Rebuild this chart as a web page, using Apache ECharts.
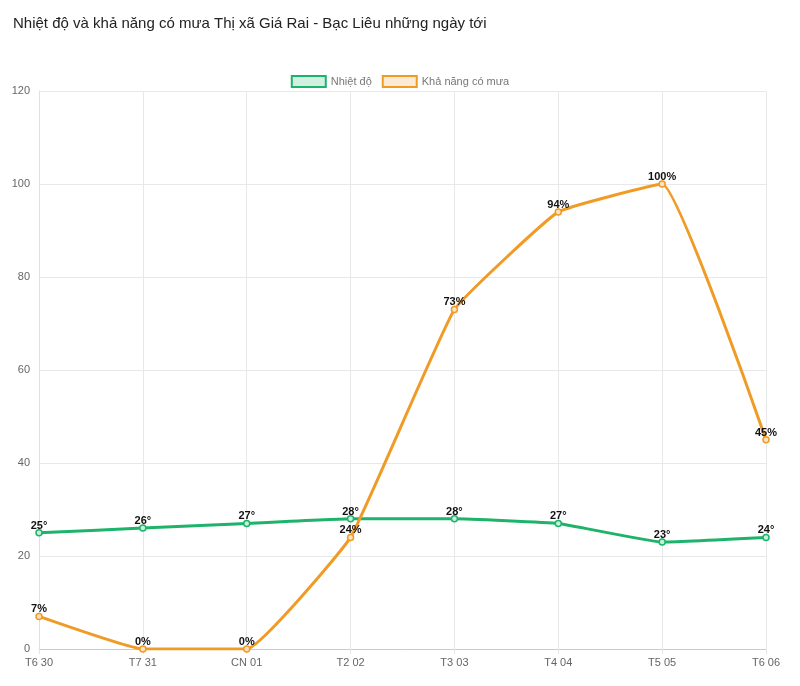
<!DOCTYPE html>
<html><head><meta charset="utf-8">
<script src="https://cdn.jsdelivr.net/npm/echarts@6/dist/echarts.min.js"></script>
<style>html,body{margin:0;padding:0;background:#fff}#c{width:800px;height:686px}</style>
</head><body><div id="c"></div>
<script>
const categories = ['T6 30','T7 31','CN 01','T2 02','T3 03','T4 04','T5 05','T6 06'];
const temperature = [25,26,27,28,28,27,23,24];
const rainChance = [7,0,0,24,73,94,100,45];
const yTicks = [0,20,40,60,80,100,120];
const titleText = 'Nhiệt độ và khả năng có mưa Thị xã Giá Rai - Bạc Liêu những ngày tới';
const green = '#1db36b', orange = '#f19b27';
const chart = echarts.init(document.getElementById('c'));
const font = 'Liberation Sans, Arial, Helvetica, sans-serif';
chart.setOption({
  animation:false,
  textStyle:{fontFamily:font},
  title:{text:titleText,left:8,top:11,textStyle:{fontSize:15,fontWeight:'normal',color:'#222',fontFamily:font}},
  legend:{top:70,left:'center',itemWidth:34,itemHeight:11,itemGap:10,icon:'rect',
    textStyle:{fontSize:11,color:'#777',fontFamily:font},
    data:[
      {name:'Nhiệt độ',itemStyle:{color:'rgba(29,179,107,0.2)',borderColor:green,borderWidth:2}},
      {name:'Khả năng có mưa',itemStyle:{color:'rgba(241,155,39,0.2)',borderColor:orange,borderWidth:2}}
    ]},
  grid:{left:39,right:34,top:91,bottom:37,containLabel:false},
  xAxis:{type:'category',data:categories,boundaryGap:false,
    axisLine:{lineStyle:{color:'#ccc'}},axisTick:{show:true,length:5,lineStyle:{color:'#e5e5e5'}},
    axisLabel:{color:'#666',fontSize:11,margin:8,fontFamily:font},
    splitLine:{show:true,lineStyle:{color:'#e8e8e8'}}},
  yAxis:{type:'value',min:0,max:120,interval:20,
    axisLine:{show:true,lineStyle:{color:'#e0e0e0'}},axisTick:{show:false},
    axisLabel:{color:'#666',fontSize:11,margin:9,fontFamily:font},
    splitLine:{show:true,lineStyle:{color:'#e8e8e8'}}},
  series:[
    {name:'Nhiệt độ',type:'line',data:temperature,smooth:0.1,symbol:'circle',symbolSize:6,
      lineStyle:{color:green,width:3},itemStyle:{color:'#c8efdb',borderColor:green,borderWidth:1.5},
      label:{show:true,position:'top',distance:-2,formatter:p=>p.value+'°',color:'#111',fontWeight:'bold',fontSize:11,fontFamily:font}},
    {name:'Khả năng có mưa',type:'line',data:rainChance,smooth:0.1,symbol:'circle',symbolSize:6,
      lineStyle:{color:orange,width:3},itemStyle:{color:'#fbe3c2',borderColor:orange,borderWidth:1.5},
      label:{show:true,position:'top',distance:-2,formatter:p=>p.value+'%',color:'#111',fontWeight:'bold',fontSize:11,fontFamily:font}}
  ]
});
</script></body></html>
